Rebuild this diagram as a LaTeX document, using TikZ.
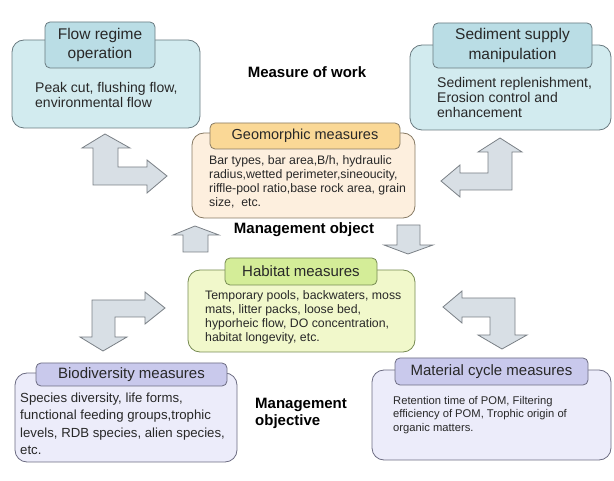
\documentclass[tikz,border=0pt]{standalone}
\usepackage{fontspec}
\setmainfont{Liberation Sans}
\usepackage{tikz}
\definecolor{flowfill}{RGB}{210,235,239}
\definecolor{flowtab}{RGB}{186,221,229}
\definecolor{flowline}{RGB}{105,122,128}
\definecolor{geofill}{RGB}{253,239,222}
\definecolor{geotab}{RGB}{250,216,150}
\definecolor{geoline}{RGB}{135,122,100}
\definecolor{habfill}{RGB}{241,248,203}
\definecolor{habtab}{RGB}{212,237,152}
\definecolor{habline}{RGB}{118,138,82}
\definecolor{biofill}{RGB}{236,236,250}
\definecolor{biotab}{RGB}{201,201,236}
\definecolor{bioline}{RGB}{108,108,130}
\definecolor{arrowfill}{RGB}{216,223,229}
\definecolor{arrowline}{RGB}{122,128,134}
\definecolor{txt}{RGB}{40,40,40}
\tikzset{box/.style 2 args={draw=#2, fill=#1, line width=0.8pt, rounded corners=12pt, inner sep=0pt},
  tab/.style 2 args={draw=#2, fill=#1, line width=0.8pt, rounded corners=5pt, inner sep=0pt, align=center, text=txt},
  body/.style={anchor=west, align=left, inner sep=0pt, text=txt},
  label/.style={font=\fontsize{15}{17}\selectfont\bfseries, align=left, inner sep=0pt, text=black},
  bigarrow/.style={draw=arrowline, fill=arrowfill, line width=0.8pt, line join=miter}}

\begin{document}
\begin{tikzpicture}[x=1pt, y=-1pt]
\useasboundingbox (0,0) rectangle (614,481);
 \node[box={flowfill}{flowline}, minimum width=188pt, minimum height=88pt] (flowbox) at (106,84) {};
 \node[tab={flowtab}{flowline}, minimum width=110pt, minimum height=46pt, font=\fontsize{15.5}{19}\selectfont] (flowtitle) at (100,45) {Flow regime\\operation};
 \node[body, font=\fontsize{14}{14.5}\selectfont] (flowtext) at (35,95) {Peak cut, flushing flow,\\environmental flow};

 \node[box={flowfill}{flowline}, minimum width=201pt, minimum height=85pt] (sedbox) at (510.5,87.5) {};
 \node[tab={flowtab}{flowline}, minimum width=159pt, minimum height=45pt, font=\fontsize{15.5}{20}\selectfont] (sedtitle) at (512.5,45.5) {Sediment supply\\manipulation};
 \node[body, font=\fontsize{14}{15}\selectfont] (sedtext) at (437,97) {Sediment replenishment,\\Erosion control and\\enhancement};

 \node[box={geofill}{geoline}, minimum width=223pt, minimum height=85pt] (geobox) at (303.5,175.5) {};
 \node[tab={geotab}{geoline}, minimum width=190pt, minimum height=26pt, font=\fontsize{14.5}{17}\selectfont] (geotitle) at (305,136) {Geomorphic measures};
 \node[body, font=\fontsize{12.3}{14}\selectfont] (geotext) at (209,181.5) {Bar types, bar area,B/h, hydraulic\\radius,wetted perimeter,sineoucity,\\riffle-pool ratio,base rock area, grain\\size,\ \ etc.};

 \node[box={habfill}{habline}, minimum width=227pt, minimum height=82pt] (habbox) at (301.5,311) {};
 \node[tab={habtab}{habline}, minimum width=152pt, minimum height=27pt, font=\fontsize{15}{17}\selectfont] (habtitle) at (301,271.5) {Habitat measures};
 \node[body, font=\fontsize{12.3}{14}\selectfont] (habtext) at (205,317) {Temporary pools, backwaters, moss\\mats, litter packs, loose bed,\\hyporheic flow, DO concentration,\\habitat longevity, etc.};

 \node[box={biofill}{bioline}, minimum width=222pt, minimum height=89pt] (biobox) at (126,417.5) {};
 \node[tab={biotab}{bioline}, minimum width=191pt, minimum height=23pt, font=\fontsize{15}{17}\selectfont] (biotitle) at (131.5,374.5) {Biodiversity measures};
 \node[body, font=\fontsize{13.2}{17.5}\selectfont] (biotext) at (20,424) {Species diversity, life forms,\\functional feeding groups,trophic\\levels, RDB species, alien species,\\etc.};

 \node[box={biofill}{bioline}, minimum width=239pt, minimum height=90pt] (matbox) at (491.5,415) {};
 \node[tab={biotab}{bioline}, minimum width=193pt, minimum height=27pt, font=\fontsize{15}{17}\selectfont] (mattitle) at (491.5,371.5) {Material cycle measures};
 \node[body, font=\fontsize{11.2}{13.3}\selectfont] (mattext) at (393,415) {Retention time of POM, Filtering\\efficiency of POM, Trophic origin of\\organic matters.};

 \node[label] (work) at (307,72) {Measure of work};
 \node[label] (object) at (304,230) {Management object};
 \node[label, anchor=west] (objective) at (255,413.5) {Management\\objective};

 \draw[bigarrow] (93,185) -- (93,148) -- (82,148) -- (105,134) -- (130,148) -- (118,148) -- (118,167) -- (147,167) -- (147,160) -- (167,176) -- (147,193) -- (147,185) -- cycle;
 \draw[bigarrow] (512,190) -- (512,152) -- (522,152) -- (500,138) -- (478,152) -- (488,152) -- (488,173) -- (460,173) -- (460,165) -- (441,181) -- (460,197) -- (460,190) -- cycle;
 \draw[bigarrow] (92,300) -- (145,300) -- (145,292) -- (165,308) -- (145,324) -- (145,317) -- (115,317) -- (115,337) -- (127,337) -- (103,351) -- (80,337) -- (92,337) -- cycle;
 \draw[bigarrow] (515,298) -- (462,298) -- (462,291) -- (443,307) -- (462,323) -- (462,317) -- (490,317) -- (490,335) -- (478,335) -- (502,349) -- (527,335) -- (515,335) -- cycle;
 \draw[bigarrow] (183,252) -- (183,235) -- (173,235) -- (195,226) -- (219,235) -- (208,235) -- (208,252) -- cycle;
 \draw[bigarrow] (397,225) -- (420,225) -- (420,245) -- (433,245) -- (408,254) -- (384,245) -- (397,245) -- cycle;
\end{tikzpicture}
\end{document}
